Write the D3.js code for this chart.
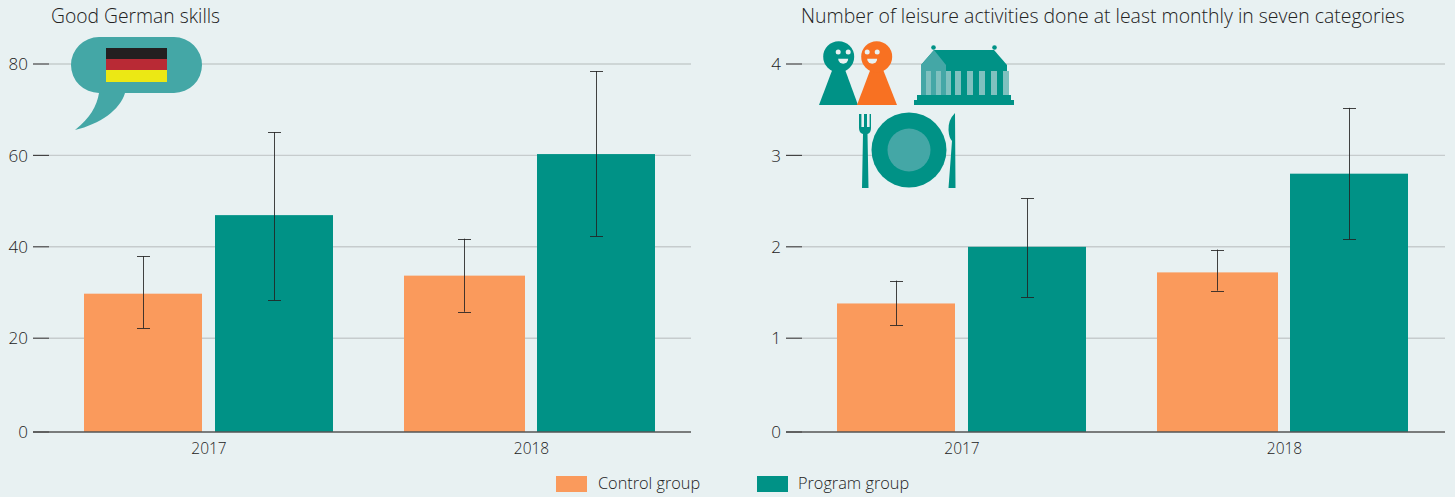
<!DOCTYPE html>
<html><head><meta charset="utf-8">
<script src="https://cdn.jsdelivr.net/npm/d3@7/dist/d3.min.js"></script>
<style>
html,body{margin:0;padding:0;background:#e8f1f2;}
svg{display:block;}
text{font-family:"Open Sans",sans-serif;font-weight:300;fill:#222;}
</style></head><body><svg id="c" width="1455" height="497"></svg>
<script>
const years = ["2017","2018"];
const seriesNames = ["Control group","Program group"];
const germanControl = [29.74,33.69];
const germanProgram = [46.93,60.29];
const germanControlCI = [[22.19,37.94],[25.78,41.78]];
const germanProgramCI = [[28.32,65.11],[42.33,78.46]];
const leisureControl = [1.38,1.72];
const leisureProgram = [2.00,2.80];
const leisureControlCI = [[1.14,1.63],[1.52,1.97]];
const leisureProgramCI = [[1.45,2.53],[2.08,3.52]];
const germanTicks = [0,20,40,60,80];
const leisureTicks = [0,1,2,3,4];
const titles = ["Good German skills","Number of leisure activities done at least monthly in seven categories"];
const ORANGE="#fa9a5c", TEAL="#009286", LIGHT="#44a7a6", BG="#e8f1f2";
const colors = d3.scaleOrdinal(seriesNames,[ORANGE,TEAL]);
const svg=d3.select("#c");

function panel(o){
  const g=svg.append("g");
  // the reference's first tick interval is slightly taller than the others
  const y=d3.scaleLinear().domain(o.domain).range([432,338.2,64]);
  const x=d3.scaleBand().domain(years).range(o.range);
  const inner={
    "2017":d3.scaleBand().domain(seriesNames).range([0,249]).paddingInner(13/131),
    "2018":d3.scaleBand().domain(seriesNames).range([0,251]).paddingInner(15/133)
  };
  const bx=d=>x(d.yr)+inner[d.yr](d.s);
  const bw=d=>inner[d.yr].bandwidth()+(d.yr==="2018"&&d.s===seriesNames[0]?3:0);
  g.append("g").selectAll("line").data(o.ticks.filter(d=>d!==0)).join("line")
    .attr("x1",o.tickX+16).attr("x2",o.end).attr("y1",d=>y(d)).attr("y2",d=>y(d))
    .attr("stroke","#c6cccd").attr("stroke-width",1.4);
  const rows=[];
  years.forEach((yr,i)=>{
    rows.push({yr,s:seriesNames[0],v:o.control[i],ci:o.controlCI[i]});
    rows.push({yr,s:seriesNames[1],v:o.program[i],ci:o.programCI[i]});
  });
  g.append("g").selectAll("rect").data(rows).join("rect")
    .attr("x",bx).attr("width",bw)
    .attr("y",d=>y(d.v)).attr("height",d=>y(0)-y(d.v))
    .attr("fill",d=>colors(d.s));
  const axis=d3.axisLeft(y).tickValues(o.ticks).tickSize(16).tickPadding(5).tickFormat(d3.format("d")).offset(0);
  const ag=g.append("g").attr("transform",`translate(${o.tickX+16},0)`).call(axis);
  ag.select(".domain").remove();
  ag.selectAll("line").attr("stroke","#444").attr("stroke-width",1.2);
  ag.selectAll("text").attr("font-size",17).attr("dy","0.36em").style("font-family",'"Open Sans",sans-serif');
  g.append("line").attr("x1",o.tickX).attr("x2",o.end).attr("y1",y(0)).attr("y2",y(0)).attr("stroke","#555").attr("stroke-width",1.3);
  const ex=d=>Math.floor(bx(d)+bw(d)/2)+.5;
  const eg=g.append("g").attr("stroke","#222").attr("stroke-width",1).attr("stroke-opacity",.85).attr("fill","none");
  eg.selectAll(".v").data(rows).join("line").attr("class","v").attr("x1",ex).attr("x2",ex).attr("y1",d=>y(d.ci[0])).attr("y2",d=>y(d.ci[1]));
  [0,1].forEach(k=>eg.selectAll(".c"+k).data(rows).join("line").attr("class","c"+k)
    .attr("x1",d=>ex(d)-6.5).attr("x2",d=>ex(d)+6.5).attr("y1",d=>Math.round(y(d.ci[k]))+.5).attr("y2",d=>Math.round(y(d.ci[k]))+.5));
  const lx=d3.scalePoint().domain(years).range(o.labelRange);
  g.append("g").selectAll("text").data(years).join("text")
    .attr("x",d=>lx(d)).attr("y",454).attr("text-anchor","middle").attr("font-size",15.5).text(d=>d);
  g.append("text").attr("x",o.titleX).attr("y",23).attr("font-size",o.titleSize).text(o.title);
}
panel({domain:[0,20,80],range:[84,724],labelRange:[209,531.5],ticks:germanTicks,control:germanControl,program:germanProgram,controlCI:germanControlCI,programCI:germanProgramCI,tickX:33,end:691,title:titles[0],titleX:51,titleSize:19.3});
panel({domain:[0,1,4],range:[837,1477],labelRange:[962,1284.5],ticks:leisureTicks,control:leisureControl,program:leisureProgram,controlCI:leisureControlCI,programCI:leisureProgramCI,tickX:786,end:1445,title:titles[1],titleX:801,titleSize:19.45});

const lg=svg.append("g");
[[556,598],[757,798]].forEach((p,i)=>{
  lg.append("rect").attr("x",p[0]).attr("y",476).attr("width",31).attr("height",16).attr("fill",colors(seriesNames[i]));
  lg.append("text").attr("x",p[1]).attr("y",489).attr("font-size",16.3).text(seriesNames[i]);
});

const ic=svg.append("g");
ic.append("path").attr("d","M99 37H174A28 28 0 0 1 174 93H125C120 110 100 124 75 130C90 118 97 106 99 93A28 28 0 0 1 99 37Z").attr("fill",LIGHT);
["#231f20","#b92a35","#ece814"].forEach((c,i)=>ic.append("rect").attr("x",106).attr("y",48+i*11).attr("width",61).attr("height",i==2?12:11).attr("fill",c));

function pawn(cx,cy,c,bl,br,base,fx){
  const h=ic.append("g");
  h.append("path").attr("d",`M${cx-6} ${cy+12}L${bl} ${base}H${br}L${cx+6} ${cy+12}Z`).attr("fill",c);
  h.append("circle").attr("cx",cx).attr("cy",cy).attr("r",15.5).attr("fill",c);
  [-5,5].forEach(d=>h.append("circle").attr("cx",cx+fx+d).attr("cy",cy-4.7).attr("r",2.5).attr("fill",BG));
  h.append("path").attr("d",`M${cx+fx-5} ${cy+2}H${cx+fx+5}A5 5 0 0 1 ${cx+fx-5} ${cy+2}Z`).attr("fill",BG);
}
pawn(838.7,56.7,TEAL,819,858,105,4.5);
pawn(876.7,56.7,"#f87122",857,897,105,-4.5);

const m=ic.append("g");
m.append("path").attr("d","M934 50H994L1007 65V98H921V65Z").attr("fill",TEAL);
m.append("circle").attr("cx",933.5).attr("cy",47.5).attr("r",2.3).attr("fill",TEAL);
m.append("circle").attr("cx",994.5).attr("cy",47.5).attr("r",2.3).attr("fill",TEAL);
m.append("path").attr("d","M921 65L934 50L946 65V95H921Z").attr("fill",LIGHT);
[926,936,946,955,967,979,991,1003].forEach(px=>m.append("rect").attr("x",px).attr("y",71).attr("width",px<950?5:6).attr("height",24).attr("fill","#7fc1bf"));
m.append("rect").attr("x",917).attr("y",95).attr("width",94).attr("height",5).attr("fill",TEAL);
m.append("rect").attr("x",914).attr("y",100).attr("width",100).attr("height",5).attr("fill",TEAL);

const p=ic.append("g");
p.append("circle").attr("cx",909).attr("cy",150).attr("r",37.5).attr("fill",TEAL);
p.append("circle").attr("cx",909).attr("cy",150).attr("r",21.5).attr("fill",LIGHT);
p.append("path").attr("d","M859 114V128Q859 133 863 134L862 188H868.5L867.5 134Q871 133 871 128V114L869.6 114V127H867V114H864V127H861.4V114Z").attr("fill",TEAL);
p.append("path").attr("d","M955 113Q948 120 948.5 130Q949 138 952 141L948.5 188H955.5Z").attr("fill",TEAL);
</script></body></html>
